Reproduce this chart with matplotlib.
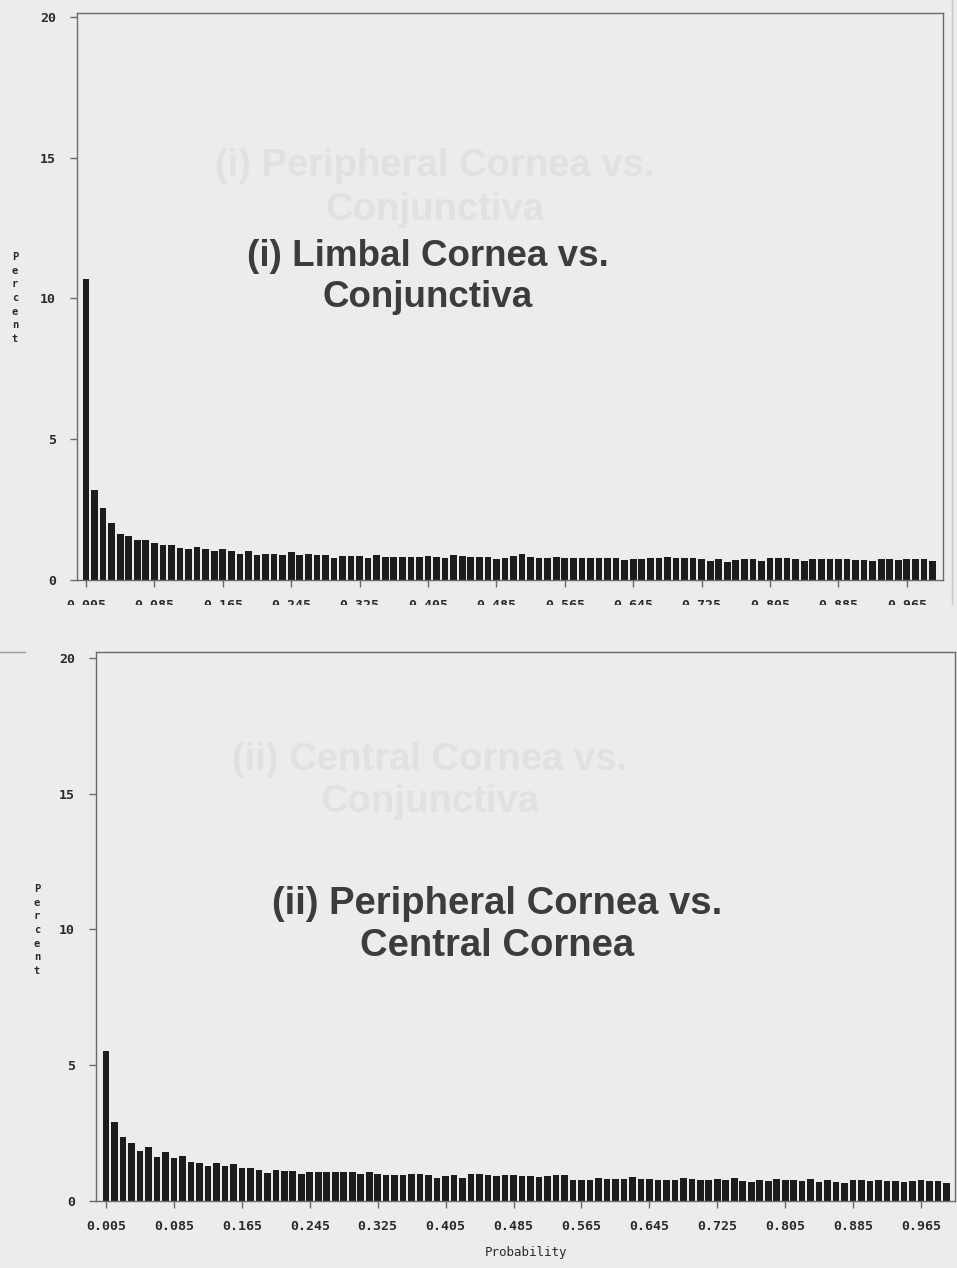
import numpy as np
import matplotlib
matplotlib.use("Agg")
import matplotlib.pyplot as plt
from matplotlib.patches import Rectangle

# bin centres: 0.005 ... 0.995 in steps of 0.01
bin_centres = np.round(np.arange(100) * 0.01 + 0.005, 3)
tick_values = bin_centres[::8]
tick_labels = [f"{v:.3f}" for v in tick_values]

# percent of cases per probability bin
limbal_vs_conj = [
    10.7, 3.19, 2.54, 2.02, 1.63, 1.57, 1.41, 1.41, 1.30, 1.25,
    1.25, 1.13, 1.09, 1.17, 1.09, 1.02, 1.09, 1.02, 0.93, 1.02,
    0.88, 0.93, 0.93, 0.88, 0.99, 0.88, 0.93, 0.88, 0.88, 0.79,
    0.85, 0.85, 0.85, 0.79, 0.89, 0.82, 0.82, 0.82, 0.82, 0.82,
    0.85, 0.82, 0.79, 0.89, 0.85, 0.82, 0.82, 0.82, 0.74, 0.79,
    0.85, 0.91, 0.82, 0.79, 0.79, 0.82, 0.79, 0.79, 0.79, 0.79,
    0.79, 0.79, 0.79, 0.72, 0.74, 0.76, 0.79, 0.79, 0.82, 0.79,
    0.79, 0.79, 0.76, 0.68, 0.74, 0.64, 0.71, 0.74, 0.74, 0.68,
    0.79, 0.79, 0.79, 0.76, 0.68, 0.76, 0.76, 0.74, 0.76, 0.74,
    0.71, 0.71, 0.68, 0.74, 0.76, 0.71, 0.76, 0.74, 0.74, 0.68,
]
periph_vs_central = [
    5.52, 2.90, 2.36, 2.14, 1.85, 1.99, 1.61, 1.79, 1.57, 1.64,
    1.45, 1.41, 1.30, 1.41, 1.30, 1.36, 1.20, 1.20, 1.16, 1.03,
    1.16, 1.10, 1.12, 0.98, 1.07, 1.07, 1.07, 1.05, 1.05, 1.05,
    1.01, 1.05, 1.01, 0.97, 0.97, 0.97, 1.01, 0.98, 0.94, 0.84,
    0.91, 0.94, 0.84, 0.98, 0.98, 0.94, 0.91, 0.94, 0.94, 0.92,
    0.92, 0.88, 0.92, 0.94, 0.94, 0.79, 0.79, 0.79, 0.84, 0.82,
    0.82, 0.82, 0.88, 0.82, 0.82, 0.79, 0.79, 0.79, 0.84, 0.82,
    0.79, 0.76, 0.82, 0.79, 0.84, 0.72, 0.69, 0.79, 0.72, 0.82,
    0.76, 0.76, 0.72, 0.82, 0.69, 0.79, 0.69, 0.67, 0.76, 0.76,
    0.72, 0.76, 0.72, 0.72, 0.69, 0.72, 0.76, 0.72, 0.72, 0.67,
]

W, H = 957, 1268
bg = "#ececec"
ink = "#1c1c1c"
mono = "DejaVu Sans Mono"

fig = plt.figure(figsize=(W / 100, H / 100), dpi=100, facecolor=bg)


def px_axes(x0, y0, x1, y1):
    return fig.add_axes([x0 / W, 1 - y1 / H, (x1 - x0) / W, (y1 - y0) / H])


def draw_hist(ax, values, xlim, ytop, ypad):
    ax.set_facecolor(bg)
    ax.bar(bin_centres, values, width=0.0078, color=ink, linewidth=0)
    ax.set_xlim(*xlim)
    ax.set_ylim(0, ytop)
    ax.set_yticks([0, 5, 10, 15, 20])
    ax.set_xticks(tick_values)
    ax.set_xticklabels(tick_labels)
    for s in ax.spines.values():
        s.set_color("#6a6a6a")
        s.set_linewidth(1.0)
    ax.tick_params(axis="both", direction="out", length=5, width=1,
                   color="#6a6a6a", labelcolor="#2a2a2a", labelsize=9.5)
    ax.tick_params(axis="y", pad=ypad)
    ax.tick_params(axis="x", pad=9)
    for lbl in ax.get_xticklabels() + ax.get_yticklabels():
        lbl.set_fontfamily(mono)
        lbl.set_fontweight("bold")
    ax.patch.set_alpha(0)


def fig_text(x, y, s, **kw):
    fig.text(x / W, 1 - y / H, s, ha="center", va="center", **kw)


# faint show-through from the facing page
fig_text(435, 188, "(i) Peripheral Cornea vs.\nConjunctiva", fontsize=27.5,
         fontweight="bold", family="Liberation Sans", color="#e1e1e1",
         linespacing=1.25, zorder=0)
fig_text(430, 781, "(ii) Central Cornea vs.\nConjunctiva", fontsize=27.5,
         fontweight="bold", family="Liberation Sans", color="#e1e1e1",
         linespacing=1.2, zorder=0)

# (i) limbal cornea vs conjunctiva
ax1 = px_axes(77, 13, 943, 580)
draw_hist(ax1, limbal_vs_conj, (-0.0055, 1.0073), 20.14, 10)
ax1.text(0.005 + (428 - 86) / 855, (580 - 277) / 28.15,
         "(i) Limbal Cornea vs.\nConjunctiva", ha="center", va="center",
         fontsize=26.5, fontweight="bold", family="Liberation Sans",
         color="#3c3c3c", linespacing=1.2)

# (ii) peripheral cornea vs central cornea
ax2 = px_axes(96, 652, 955, 1201)
draw_hist(ax2, periph_vs_central, (-0.0068, 1.005), 20.22, 10)
ax2.text(0.005 + (497 - 106) / 849, (1201 - 925) / 27.15,
         "(ii) Peripheral Cornea vs.\nCentral Cornea", ha="center", va="center",
         fontsize=27.5, fontweight="bold", family="Liberation Sans",
         color="#3c3c3c", linespacing=1.2)
ax2.set_xlabel("Probability", family=mono, fontsize=9, color="#2a2a2a",
               labelpad=9)

# stacked "Percent" axis titles
for x, y in [(15, 298), (37, 930)]:
    fig_text(x, y, "P\ne\nr\nc\ne\nn\nt", family=mono, fontweight="bold",
             fontsize=7.5, color="#2a2a2a", linespacing=1.45)

# the upper panel's tick labels are cut off by the page below
fig.patches.append(Rectangle((0, 1 - 640 / H), 1, 35 / H,
                             transform=fig.transFigure, facecolor=bg,
                             edgecolor="none", zorder=10))
fig.add_artist(plt.Line2D([0, 25 / W], [1 - 652 / H, 1 - 652 / H],
                          transform=fig.transFigure, color="#9a9a9a", lw=1))
fig.add_artist(plt.Line2D([952 / W, 952 / W], [1 - 605 / H, 1.0],
                          transform=fig.transFigure, color="#c8c8c8", lw=1))

fig.savefig("out.png", dpi=100, facecolor=bg)
